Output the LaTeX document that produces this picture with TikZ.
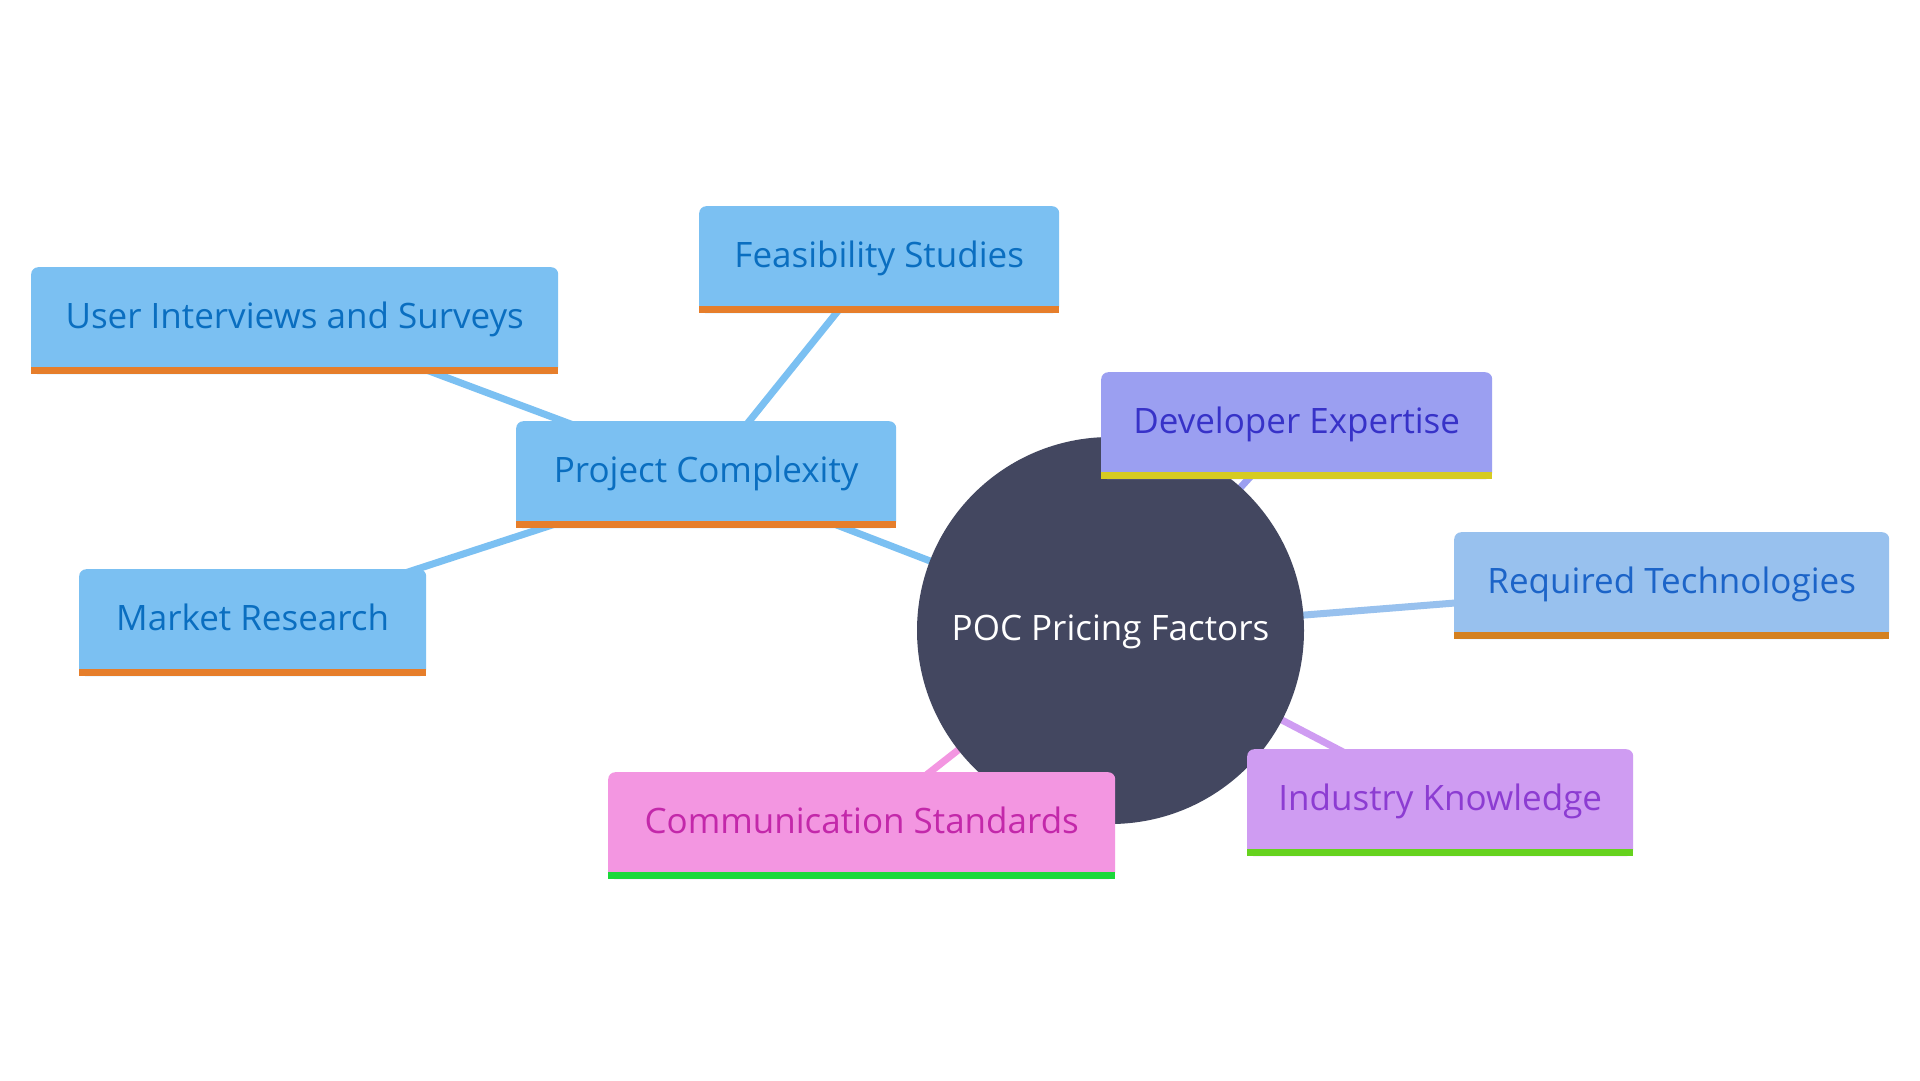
\documentclass[tikz,border=0pt]{standalone}
\usepackage{fontspec}
\setmainfont{Open Sans}
\pgfdeclarelayer{bg}
\pgfsetlayers{bg,main}
\definecolor{rootc}{HTML}{434760}
\definecolor{bluef}{HTML}{7BC0F2}
\definecolor{bluet}{HTML}{0A6EC0}
\definecolor{orangeb}{HTML}{E67E2B}
\definecolor{devf}{HTML}{9B9FF1}
\definecolor{devt}{HTML}{3732C8}
\definecolor{devb}{HTML}{D6CB22}
\definecolor{reqf}{HTML}{98C1EE}
\definecolor{reqt}{HTML}{1C64C8}
\definecolor{reqb}{HTML}{D4801F}
\definecolor{indf}{HTML}{CF9CF2}
\definecolor{indt}{HTML}{8C3CD2}
\definecolor{indb}{HTML}{66D21E}
\definecolor{comf}{HTML}{F396E1}
\definecolor{comt}{HTML}{C328AA}
\definecolor{comb}{HTML}{1BD83A}
\begin{document}
\begin{tikzpicture}[x=1pt,y=-1pt,
  leaf/.style={rectangle, rounded corners=7pt, minimum height=107pt, inner sep=0pt,
    anchor=north west, text height=26pt, text depth=11pt,
    font=\fontsize{35}{40}\selectfont},
  bluebox/.style={leaf, fill=bluef, text=bluet},
  devbox/.style={leaf, fill=devf, text=devt},
  reqbox/.style={leaf, fill=reqf, text=reqt},
  indbox/.style={leaf, fill=indf, text=indt},
  combox/.style={leaf, fill=comf, text=comt},
  link/.style={line width=7pt},
  rootnode/.style={circle, fill=rootc, minimum size=387pt, inner sep=0pt, text=white,
    text height=26pt, text depth=6pt, font=\fontsize{35}{40}\selectfont}
]
\useasboundingbox (0,0) rectangle (1920,1080);

\node[rootnode] (root) at (1110.5,630.5) {POC Pricing Factors};

\node[bluebox, minimum width=380pt] (pc) at (516,421) {Project Complexity};
\node[bluebox, minimum width=360pt] (fs) at (699,206) {Feasibility Studies};
\node[bluebox, minimum width=527pt] (ui) at (31,267) {User Interviews and Surveys};
\node[bluebox, minimum width=347pt] (mr) at (79,569) {Market Research};
\node[devbox, minimum width=391pt] (de) at (1101,372) {Developer Expertise};
\node[reqbox, minimum width=435pt] (rt) at (1454,532) {Required Technologies};
\node[indbox, minimum width=386pt] (ik) at (1247,749) {Industry Knowledge};
\node[combox, minimum width=507pt] (cs) at (608,772) {Communication Standards};

\foreach \n/\c in {pc/orangeb, fs/orangeb, ui/orangeb, mr/orangeb, de/devb, rt/reqb, ik/indb, cs/comb}{
  \fill[\c] ([yshift=7pt]\n.south west) rectangle (\n.south east);
}

\begin{pgfonlayer}{bg}
\fill[white] (0,0) rectangle (1920,1080);
\draw[link, bluef] (root.center) -- (pc.center);
\draw[link, bluef] (pc.center) -- (fs.center);
\draw[link, bluef] (pc.center) -- (ui.center);
\draw[link, bluef] (pc.center) -- (mr.center);
\draw[link, devf] (root.center) -- (de.center);
\draw[link, reqf] (root.center) -- (rt.center);
\draw[link, indf] (root.center) -- (ik.center);
\draw[link, comf] (root.center) -- (cs.center);
\end{pgfonlayer}
\end{tikzpicture}
\end{document}
